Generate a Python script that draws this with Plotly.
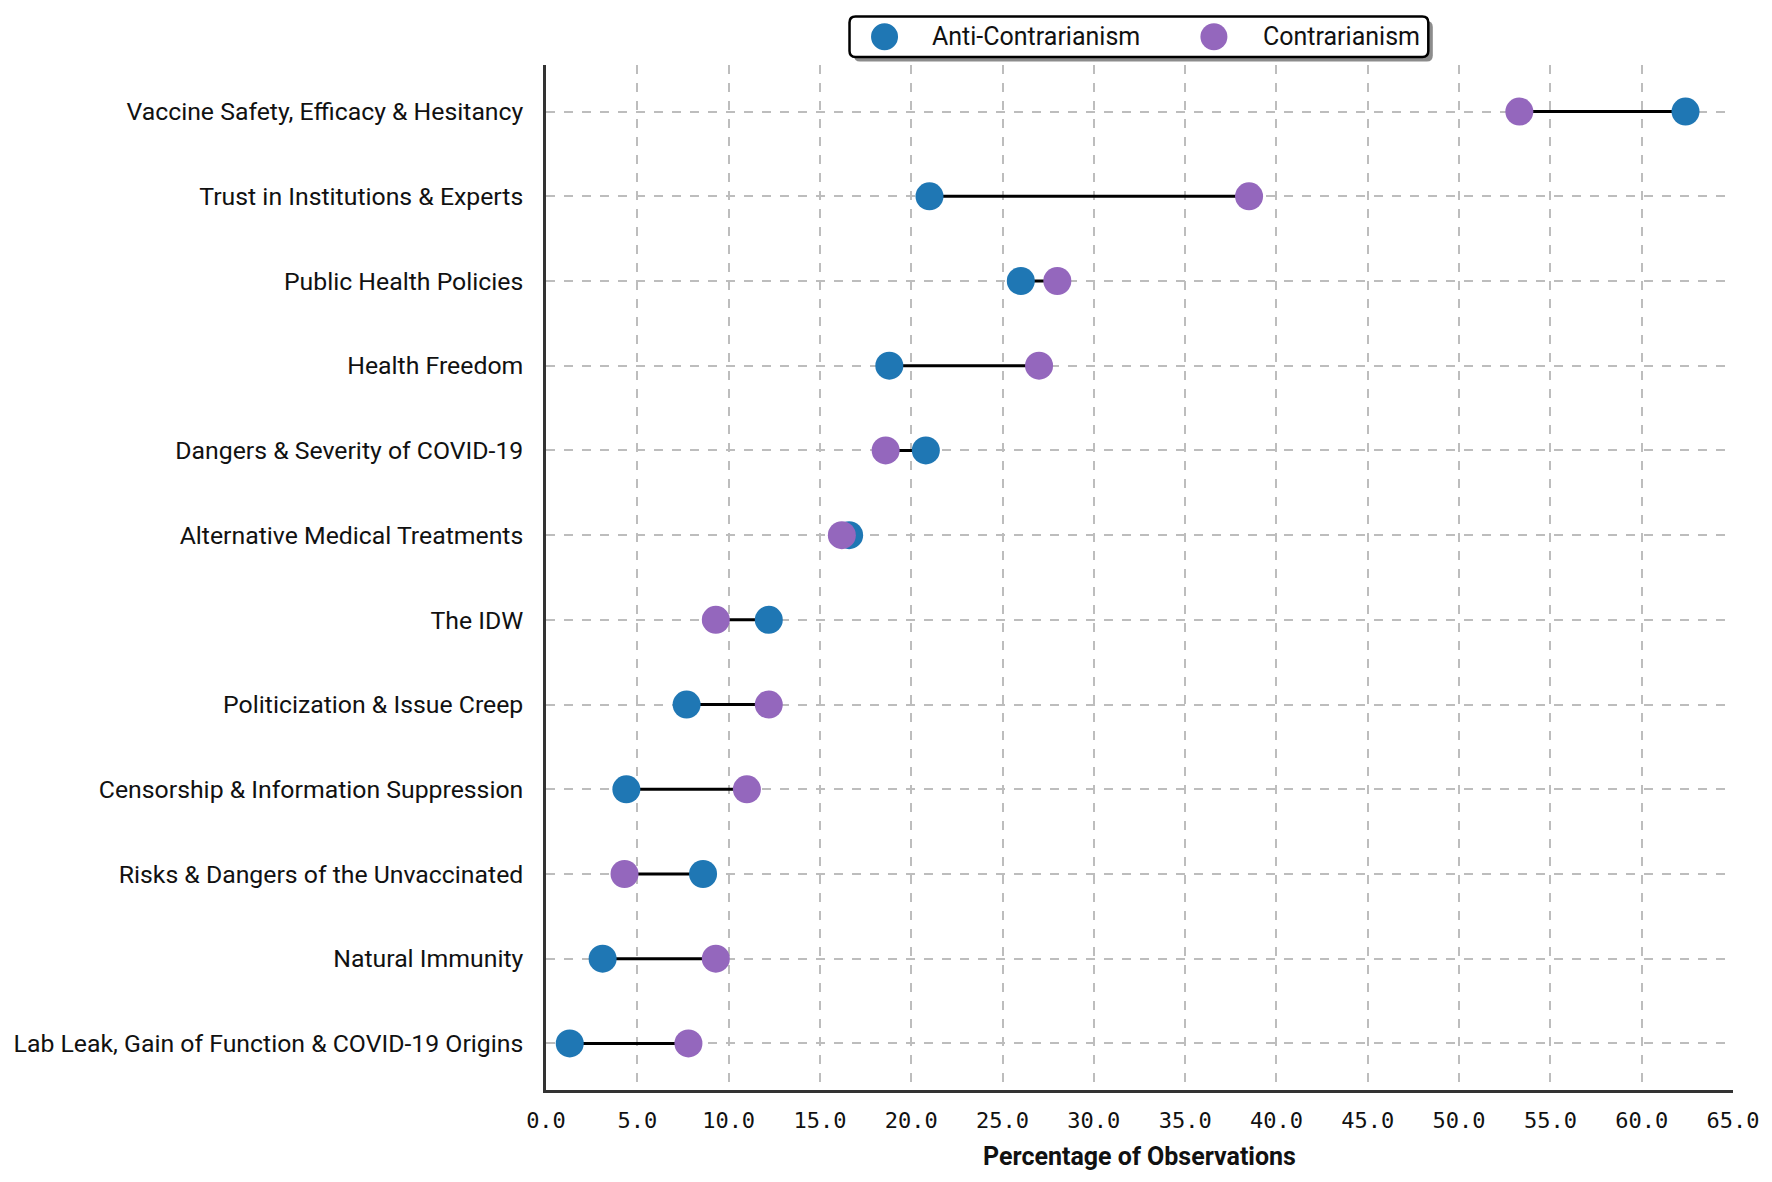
import plotly.graph_objects as go

# Topics, top to bottom as in the original figure
topics = [
    "Vaccine Safety, Efficacy & Hesitancy",
    "Trust in Institutions & Experts",
    "Public Health Policies",
    "Health Freedom",
    "Dangers & Severity of COVID-19",
    "Alternative Medical Treatments",
    "The IDW",
    "Politicization & Issue Creep",
    "Censorship & Information Suppression",
    "Risks & Dangers of the Unvaccinated",
    "Natural Immunity",
    "Lab Leak, Gain of Function & COVID-19 Origins",
]

# percentage of observations per group
anti_contrarianism = [62.4, 21.0, 26.0, 18.8, 20.8, 16.6, 12.2, 7.7, 4.4, 8.6, 3.1, 1.3]
contrarianism = [53.3, 38.5, 28.0, 27.0, 18.6, 16.2, 9.3, 12.2, 11.0, 4.3, 9.3, 7.8]

x_ticks = [i * 5.0 for i in range(14)]
x_tick_labels = [f"{v:.1f}" for v in x_ticks]

BLUE = "#1f77b4"
PURPLE = "#9467bd"

W, H = 1772, 1182
M = dict(l=538, r=47, t=57, b=100)
PW = W - M["l"] - M["r"]
PH = H - M["t"] - M["b"]

fig = go.Figure()

# connecting segments
seg_x, seg_y = [], []
for t, a, c in zip(topics, anti_contrarianism, contrarianism):
    seg_x += [a, c, None]
    seg_y += [t, t, None]

fig.add_trace(go.Scatter(
    x=seg_x, y=seg_y, mode="lines",
    line=dict(color="black", width=3),
    hoverinfo="skip", showlegend=False,
))

fig.add_trace(go.Scatter(
    x=anti_contrarianism, y=topics, mode="markers",
    name="Anti-Contrarianism", showlegend=False,
    marker=dict(color=BLUE, size=28),
))

fig.add_trace(go.Scatter(
    x=contrarianism, y=topics, mode="markers",
    name="Contrarianism", showlegend=False,
    marker=dict(color=PURPLE, size=28),
))


def rounded_box(x0, x1, y0, y1, rad=6):
    rx, ry = rad / PW, rad / PH
    return (f"M {x0 + rx},{y0} L {x1 - rx},{y0} Q {x1},{y0} {x1},{y0 + ry} "
            f"L {x1},{y1 - ry} Q {x1},{y1} {x1 - rx},{y1} "
            f"L {x0 + rx},{y1} Q {x0},{y1} {x0},{y1 - ry} "
            f"L {x0},{y0 + ry} Q {x0},{y0} {x0 + rx},{y0} Z")


# hand-made legend (plotly caps legend marker size), with drop shadow
fig.add_shape(type="path", xref="paper", yref="paper",
              path=rounded_box(0.2595, 0.7471, 1.0033, 1.0430),
              fillcolor="#8c8c8c", line=dict(width=0))
fig.add_shape(type="path", xref="paper", yref="paper",
              path=rounded_box(0.2557, 0.7433, 1.0077, 1.0474),
              fillcolor="white", line=dict(color="black", width=2.5))
legend_items = [("Anti-Contrarianism", BLUE, 0.2852, 0.3232),
                ("Contrarianism", PURPLE, 0.5627, 0.6027)]
for label, color, cx, tx in legend_items:
    fig.add_shape(type="circle", xref="paper", yref="paper",
                  xsizemode="pixel", ysizemode="pixel",
                  xanchor=cx, yanchor=1.0275,
                  x0=-13.5, x1=13.5, y0=-13.5, y1=13.5,
                  fillcolor=color, line=dict(width=0))
    fig.add_annotation(x=tx, y=1.0275, xref="paper", yref="paper",
                       text=label, showarrow=False,
                       xanchor="left", yanchor="middle",
                       font=dict(family="Roboto", size=25, color="#111111"))

fig.update_layout(
    width=W, height=H,
    margin=M,
    plot_bgcolor="white", paper_bgcolor="white",
    font=dict(family="Roboto", size=25, color="#111111"),
    showlegend=False,
    xaxis=dict(
        range=[0, 65], tickvals=x_ticks, ticktext=x_tick_labels,
        tickfont=dict(family="DejaVu Sans Mono", size=22, color="#111111"),
        title=dict(text="<b>Percentage of Observations</b>",
                   font=dict(family="Roboto", size=25), standoff=16),
        showgrid=True, gridcolor="#bdbdbd", griddash="dash", gridwidth=1.6,
        showline=True, linecolor="#333333", linewidth=2.5,
        zeroline=False, ticks="", ticklabelstandoff=9, automargin=False,
    ),
    yaxis=dict(
        categoryorder="array", categoryarray=topics[::-1],
        range=[-0.55, 11.55],
        showgrid=True, gridcolor="#bdbdbd", griddash="dash", gridwidth=1.6,
        showline=True, linecolor="#333333", linewidth=2.5,
        zeroline=False, ticks="", ticklabelstandoff=15, automargin=False,
        tickfont=dict(family="Roboto", size=24.8, color="#111111"),
    ),
)

fig.write_html("out.html")
